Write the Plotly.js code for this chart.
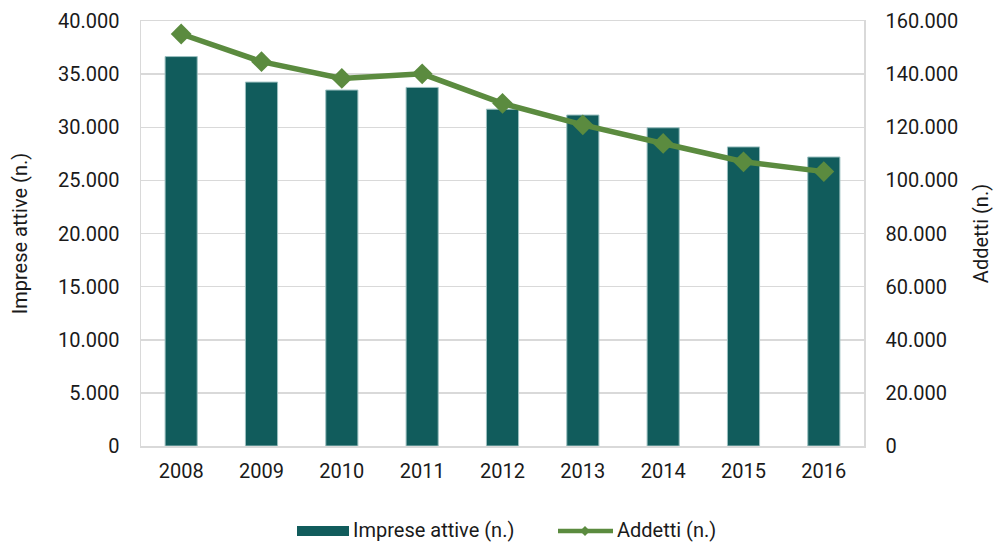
<!DOCTYPE html>
<html><head><meta charset="utf-8">
<script src="https://cdn.plot.ly/plotly-3.0.1.min.js"></script>
<style>html,body{margin:0;padding:0;background:#fff}#chart{width:999px;height:542px}</style>
</head><body><div id="chart"></div>
<script>
const years = ['2008','2009','2010','2011','2012','2013','2014','2015','2016'];
const imprese = [36650, 34250, 33500, 33750, 31700, 31150, 29950, 28150, 27200];
const addetti = [155100, 144700, 138400, 140100, 129000, 120900, 113900, 107000, 103300];
const leftTicks = [0,5000,10000,15000,20000,25000,30000,35000,40000];
const leftLabels = ['0','5.000','10.000','15.000','20.000','25.000','30.000','35.000','40.000'];
const rightTicks = [0,20000,40000,60000,80000,100000,120000,140000,160000];
const rightLabels = ['0','20.000','40.000','60.000','80.000','100.000','120.000','140.000','160.000'];
const seriesNames = ['Imprese attive (n.)', 'Addetti (n.)'];

const barColor = '#115C5C', lineColor = '#5B8B3F';
const font = {family:'Roboto, sans-serif', size:20, color:'#1a1a1a'};

// plot area in pixels: x 141..864, y 21..446
const L = 141, R = 864, T = 21, B = 446;
const px = v => (v - L) / (R - L);
const py = v => (B - v) / (B - T);

const data = [
  {type:'bar', x:years, y:imprese, name:seriesNames[0],
   marker:{color:barColor, line:{color:'#9cc0c0', width:1}}, yaxis:'y'},
  {type:'scatter', mode:'lines+markers', x:years, y:addetti, name:seriesNames[1], yaxis:'y2',
   line:{color:lineColor, width:5.5}, marker:{symbol:'diamond', size:16, color:lineColor}}
];

const dx = 5/(R-L), dy = 5/(B-T);
const cx = px(585), cy = py(531);
const layout = {
  width:999, height:542,
  margin:{l:L, r:999-R, t:T, b:542-B, autoexpand:false},
  paper_bgcolor:'#fff', plot_bgcolor:'#fff',
  font:font, bargap:0.6, showlegend:false,
  xaxis:{type:'category', range:[-0.5, years.length-0.5], tickfont:font, showline:true, linecolor:'#d9d9d9', linewidth:1.5, mirror:true,
    ticks:'', showgrid:false, ticklabelstandoff:6},
  yaxis:{range:[0,40000], tickvals:leftTicks, ticktext:leftLabels, tickfont:font,
    gridcolor:'#d9d9d9', gridwidth:1.5, showline:true, linecolor:'#d9d9d9', linewidth:1.5, zeroline:false,
    ticks:'', ticklabelstandoff:16,
    title:{text:seriesNames[0], font:font, standoff:25}},
  yaxis2:{range:[0,160000], tickvals:rightTicks, ticktext:rightLabels, tickfont:font, overlaying:'y', side:'right',
    showgrid:false, showline:true, linecolor:'#d9d9d9', linewidth:1.5, zeroline:false,
    ticks:'', ticklabelstandoff:16,
    title:{text:seriesNames[1], font:font, standoff:17}},
  shapes:[
    {type:'rect', xref:'paper', yref:'paper', x0:px(297), x1:px(349), y0:py(536), y1:py(526),
     fillcolor:barColor, line:{width:0}},
    {type:'line', xref:'paper', yref:'paper', x0:px(558), x1:px(613), y0:py(531), y1:py(531),
     line:{color:lineColor, width:4.5}},
    {type:'path', xref:'paper', yref:'paper',
     path:`M ${cx-dx} ${cy} L ${cx} ${cy+dy} L ${cx+dx} ${cy} L ${cx} ${cy-dy} Z`,
     fillcolor:lineColor, line:{width:0}}
  ],
  annotations:[
    {xref:'paper', yref:'paper', x:px(351), y:py(530), xanchor:'left', yanchor:'middle', showarrow:false,
     text:seriesNames[0], font:font},
    {xref:'paper', yref:'paper', x:px(615), y:py(530), xanchor:'left', yanchor:'middle', showarrow:false,
     text:seriesNames[1], font:font}
  ]
};
Plotly.newPlot('chart', data, layout, {displayModeBar:false, staticPlot:true});
</script></body></html>
